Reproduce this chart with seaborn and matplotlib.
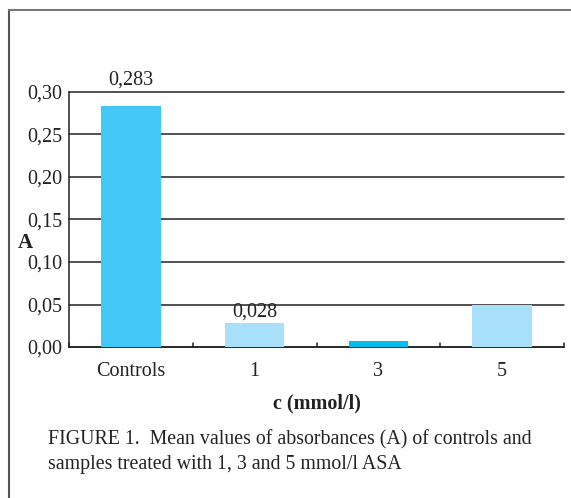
import numpy as np
import pandas as pd
import matplotlib.pyplot as plt
import seaborn as sns
from matplotlib.ticker import FuncFormatter, MultipleLocator
from matplotlib.lines import Line2D

categories = ['Controls', '1', '3', '5']
absorbance = [0.283, 0.028, 0.007, 0.049]
bar_colors = ['#43c8f5', '#a8dff9', '#00bdef', '#a8dff9']
value_labels = ['0,283', '0,028', '', '']

df = pd.DataFrame({'c': categories, 'A': absorbance})

sns.set_theme(style='white')
plt.rcParams['font.family'] = ['Liberation Serif', 'DejaVu Serif']

fig = plt.figure(figsize=(5.71, 4.98), dpi=100)
ax = fig.add_axes([69 / 571, 1 - 347 / 498, (564 - 69) / 571, (347 - 92) / 498])

sns.barplot(data=df, x='c', y='A', hue='c', palette=bar_colors, legend=False,
            width=0.48, saturation=1, linewidth=0, ax=ax, zorder=3)

ax.set_ylim(0, 0.30)
ax.set_xlim(-0.5, 3.5)
ax.yaxis.set_major_locator(MultipleLocator(0.05))
ax.yaxis.set_major_formatter(FuncFormatter(lambda v, p: f'{v:.2f}'.replace('.', ',')))
ax.grid(axis='y', color='#222222', linewidth=1.1, zorder=0)
ax.set_axisbelow(True)
for gl in ax.get_ygridlines():
    gl.set_clip_on(False)

for s in ['top', 'right']:
    ax.spines[s].set_visible(False)
for s in ['left', 'bottom']:
    ax.spines[s].set_color('#222222')
    ax.spines[s].set_linewidth(1.1)

ax.tick_params(axis='y', length=0, labelsize=14.5, pad=5, colors='#222222')
ax.tick_params(axis='x', length=0, labelsize=14.5, pad=11, colors='#222222')

# category separators on the x axis
for xb in [-0.5, 0.5, 1.5, 2.5, 3.5]:
    ax.plot([xb, xb], [0, 0.005], color='#222222', linewidth=1.1, clip_on=False, zorder=4)

# value labels; the tall one sits above the plot frame
for i, (v, lab) in enumerate(zip(absorbance, value_labels)):
    if lab:
        y = v + 0.002
        if y > 0.27:
            y = 0.303
        ax.text(i, y, lab, ha='center', va='bottom', fontsize=14.5, color='#222222')

ax.set_xlabel('c (mmol/l)', fontsize=14.5, fontweight='bold', color='#222222', labelpad=9)
ax.set_ylabel('')
fig.text(25 / 571, 1 - 243 / 498, 'A', fontsize=15, fontweight='bold', color='#222222',
         ha='center', va='center')

fig.text(48 / 571, 1 - 440 / 498, 'FIGURE 1.  Mean values of absorbances (A) of controls and',
         fontsize=14.3, color='#222222', va='center')
fig.text(48 / 571, 1 - 464 / 498, 'samples treated with 1, 3 and 5 mmol/l ASA',
         fontsize=14.3, color='#222222', va='center')

# page frame lines
fig.add_artist(Line2D([9 / 571, 9 / 571], [0, 1 - 10 / 498], color='#555555', linewidth=1.5))
fig.add_artist(Line2D([9 / 571, 1], [1 - 10 / 498, 1 - 10 / 498], color='#777777', linewidth=1.5))

fig.savefig('out.png', dpi=100)
